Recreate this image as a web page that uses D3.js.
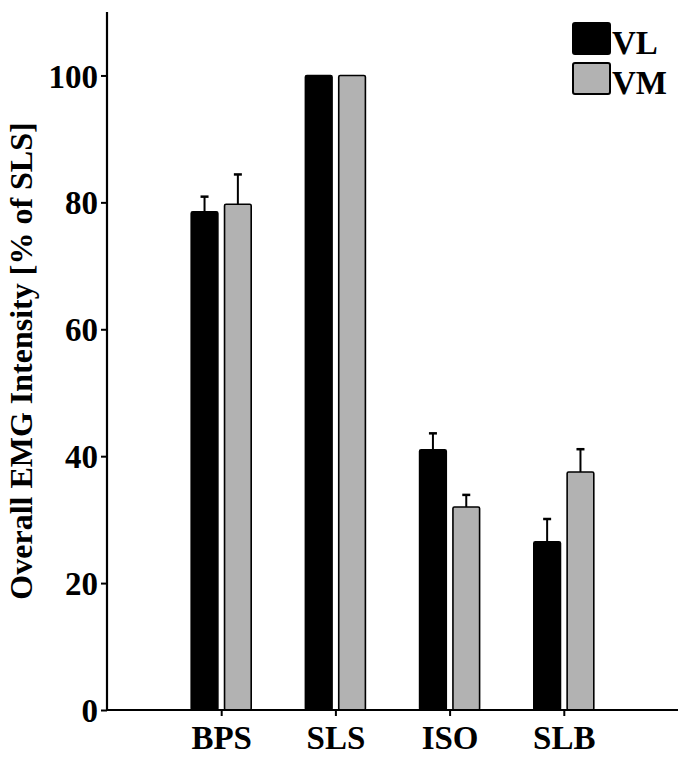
<!DOCTYPE html>
<html>
<head>
<meta charset="utf-8">
<script src="https://cdn.jsdelivr.net/npm/d3@7"></script>
<style>
  body { margin: 0; background: #fff; }
  svg text { font-family: "Liberation Serif", "Times New Roman", serif; font-weight: bold; fill: #000; }
</style>
</head>
<body>
<svg id="chart" width="690" height="759"></svg>
<script>
// data
const conditions = ['BPS', 'SLS', 'ISO', 'SLB'];
const muscles = ['VL', 'VM'];
const vlMean = [78.5, 100, 41.0, 26.5];
const vmMean = [79.7, 100, 32.0, 37.5];
const vlErr = [2.4, 0, 2.6, 3.6];
const vmErr = [4.7, 0, 1.9, 3.6];
const yTicks = [0, 20, 40, 60, 80, 100];

const colors = { VL: '#000000', VM: '#b2b2b2' };

const svg = d3.select('#chart');
const mLeft = 107, mRight = 678, mTop = 12, mBottom = 710;

const x = d3.scalePoint()
  .domain(conditions)
  .range([mLeft, mRight])
  .padding(1);

const xInner = d3.scaleBand()
  .domain(muscles)
  .range([-30, 30])
  .paddingInner(0.2);

const y = d3.scaleLinear()
  .domain([0, 110])
  .range([mBottom, mTop]);

const rows = conditions.map((c, i) => [
  { cond: c, m: 'VL', v: vlMean[i], e: vlErr[i] },
  { cond: c, m: 'VM', v: vmMean[i], e: vmErr[i] }
]).flat();

// error bars (upper only), drawn under bars
const eb = svg.append('g')
  .selectAll('g')
  .data(rows.filter(d => d.e > 0))
  .enter()
  .append('g')
  .attr('stroke', '#000')
  .attr('stroke-width', 2);

eb.append('line')
  .attr('x1', d => x(d.cond) + xInner(d.m) + xInner.bandwidth() / 2)
  .attr('x2', d => x(d.cond) + xInner(d.m) + xInner.bandwidth() / 2)
  .attr('y1', d => y(d.v))
  .attr('y2', d => y(d.v + d.e));

eb.append('line')
  .attr('x1', d => x(d.cond) + xInner(d.m) + xInner.bandwidth() / 2 - 4)
  .attr('x2', d => x(d.cond) + xInner(d.m) + xInner.bandwidth() / 2 + 4)
  .attr('y1', d => y(d.v + d.e))
  .attr('y2', d => y(d.v + d.e))
  .attr('stroke-width', 2.5);

svg.append('g')
  .selectAll('rect')
  .data(rows)
  .enter()
  .append('rect')
  .attr('x', d => x(d.cond) + xInner(d.m))
  .attr('y', d => y(d.v))
  .attr('width', xInner.bandwidth())
  .attr('height', d => y(0) - y(d.v))
  .attr('rx', 1.5)
  .attr('fill', d => colors[d.m])
  .attr('stroke', '#000')
  .attr('stroke-width', 1.6);

// axes
const yAxis = svg.append('g')
  .attr('transform', `translate(${mLeft},0)`)
  .call(d3.axisLeft(y).tickValues(yTicks).tickSize(6).tickPadding(3));
yAxis.select('.domain').attr('d', `M-0,${mTop}V${mBottom}`).attr('stroke-width', 2.2);
yAxis.selectAll('.tick line').attr('stroke-width', 2);
yAxis.selectAll('.tick text')
  .style('font-size', '33px')
  .style('font-family', '"Liberation Serif", serif')
  .style('font-weight', 'bold')
  .attr('dy', '0.35em');

const xAxis = svg.append('g')
  .attr('transform', `translate(0,${mBottom})`)
  .call(d3.axisBottom(x).tickSize(6).tickPadding(10));
xAxis.select('.domain').attr('d', `M${mLeft},0H${mRight}`).attr('stroke-width', 2.2);
xAxis.selectAll('.tick line').attr('stroke-width', 2);
xAxis.selectAll('.tick text')
  .style('font-size', '33px')
  .style('font-family', '"Liberation Serif", serif')
  .style('font-weight', 'bold');

// y label
svg.append('text')
  .attr('transform', 'translate(32,361) rotate(-90)')
  .attr('text-anchor', 'middle')
  .style('font-size', '32px')
  .text('Overall EMG Intensity [% of SLS]');

// legend
const legend = svg.append('g').attr('transform', 'translate(573,23)');
muscles.forEach((m, i) => {
  legend.append('rect')
    .attr('x', 0)
    .attr('y', i * 40)
    .attr('width', 37)
    .attr('height', 31)
    .attr('rx', 2)
    .attr('fill', colors[m])
    .attr('stroke', '#000')
    .attr('stroke-width', 2);
  legend.append('text')
    .attr('x', 39)
    .attr('y', i * 40 + 31)
    .style('font-size', '33px')
    .text(m);
});
</script>
</body>
</html>
